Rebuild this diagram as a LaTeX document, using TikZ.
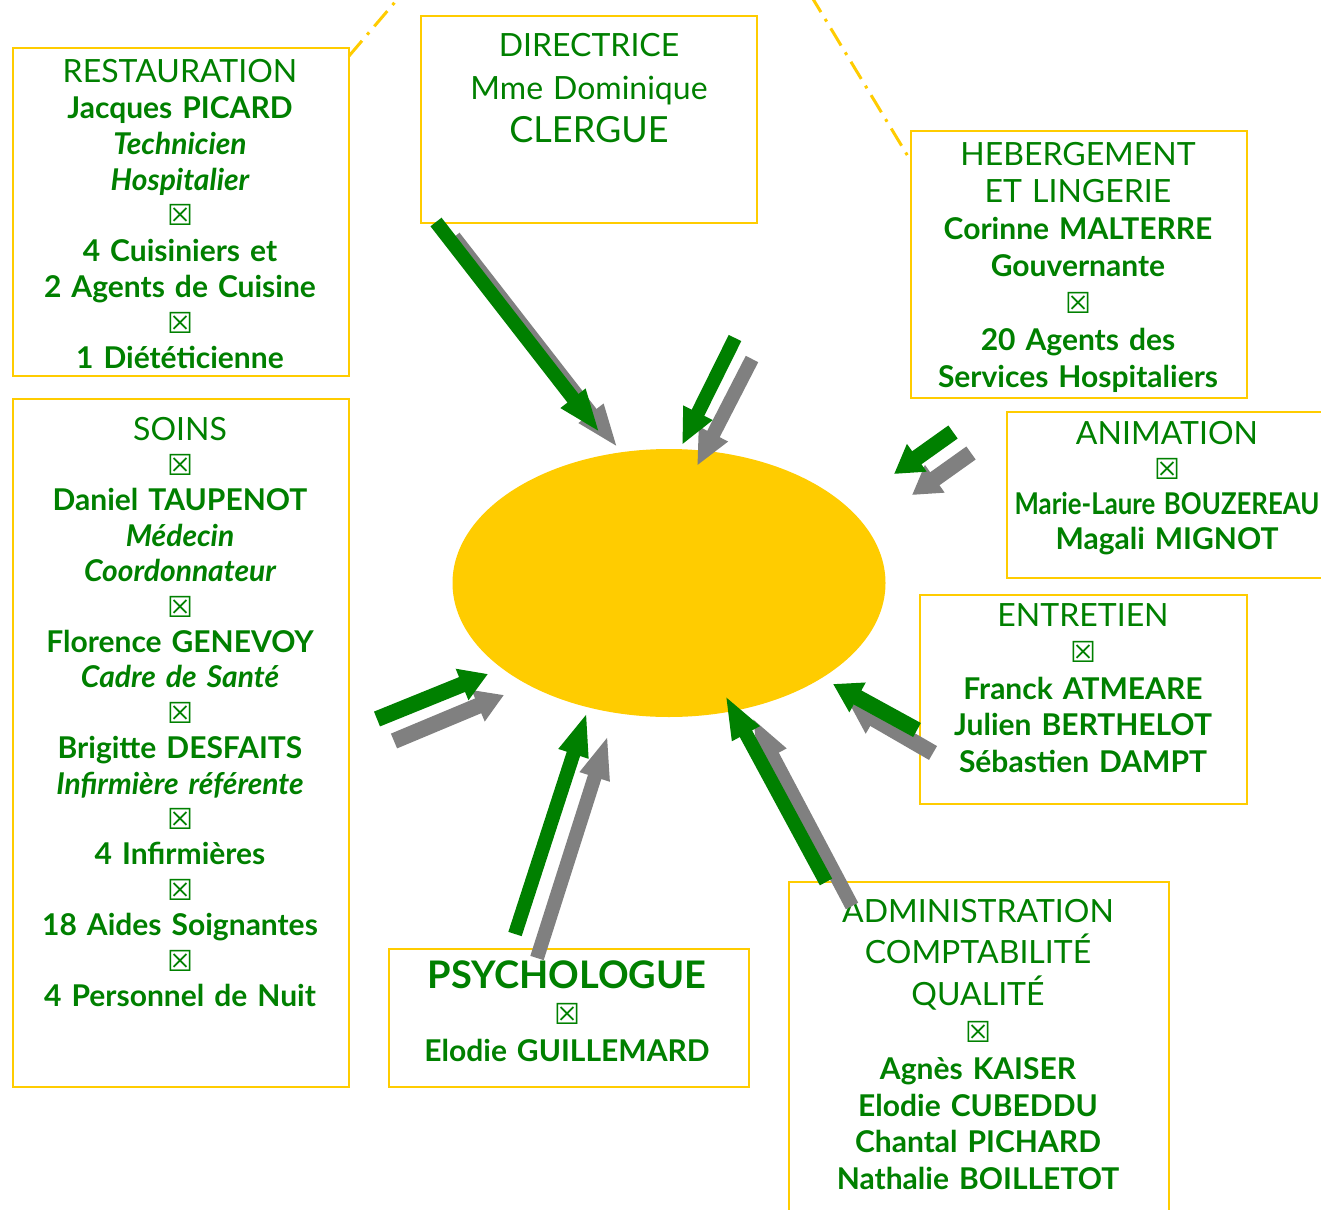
\documentclass[tikz,border=0pt]{standalone}
\usepackage{fontspec}
\setmainfont{Lato}
\newfontfamily\symf{DejaVu Sans}
\usetikzlibrary{arrows.meta,shapes.geometric}
\definecolor{tgreen}{HTML}{008000}
\definecolor{boxy}{HTML}{FFCC00}
\definecolor{agray}{HTML}{808080}
\newcommand\bx{{\symf\fontsize{29}{24}\selectfont ☒}}
\newcommand\nm[1]{{\bfseries #1}}
\newcommand\jb[1]{{\bfseries\itshape #1}}
\newcommand\hd[1]{{\fontsize{32}{30}\selectfont #1}}
\begin{document}
\begin{tikzpicture}[x=1pt,y=-1pt,
  box/.style={draw=boxy,line width=2pt,inner sep=0pt,anchor=north west},
  lbl/.style={text=tgreen,align=center,text width=420pt,anchor=base,inner sep=0pt},
  sk/.style={font=\fontsize{30}{#1}\selectfont},
  longarr/.style={-{Triangle[width=28pt,length=44pt]},line width=14pt},
  shortarr/.style={-{Triangle[width=32pt,length=28pt]},line width=16pt},
  dd/.style={draw=boxy,line width=3pt,dash pattern=on 20pt off 8pt on 3pt off 8pt}]
\clip (0,0) rectangle (1321,1209);
\fill[white] (0,0) rectangle (1321,1209);

% ellipse
\node[ellipse,fill=boxy,minimum width=433pt,minimum height=268pt,inner sep=0pt] (sun) at (669,583) {};

% boxes
\node[box,minimum width=336pt,minimum height=328pt] (rest) at (12,47) {};
\node[box,minimum width=336pt,minimum height=207pt] (dir) at (420,15) {};
\node[box,minimum width=336pt,minimum height=267pt] (heb) at (910,130) {};
\node[box,minimum width=330pt,minimum height=166pt] (anim) at (1006,411) {};
\node[box,minimum width=327pt,minimum height=209pt] (entr) at (919,594) {};
\node[box,minimum width=336pt,minimum height=688pt] (soins) at (12,398) {};
\node[box,minimum width=360pt,minimum height=138pt] (psy) at (388,948) {};
\node[box,minimum width=380pt,minimum height=340pt] (admin) at (788,881) {};

% dash-dot lines
\coordinate (d1a) at (349,56);
\coordinate (d1b) at (401,-5);
\coordinate (d2a) at (810.6,-5);
\coordinate (d2b) at (909,158);
\draw[dd] (d1a) -- (d1b);
\draw[dd] (d2a) -- (d2b);

% texts
\node[lbl,sk=35.75] (rest-t) at (180,83) {\hd{RESTAURATION}\\ \nm{Jacques PICARD}\\ \jb{Technicien}\\ \jb{Hospitalier}\\ \bx\\ \nm{4 Cuisiniers et}\\ \nm{2 Agents de Cuisine}\\ \bx\\ \nm{1 Diététicienne}};
\node[lbl,sk=43] (dir-t) at (589,57) {\hd{DIRECTRICE}\\ \hd{Mme Dominique}\\ {\fontsize{36}{43}\selectfont CLERGUE}};
\node[lbl,sk=37] (heb-t) at (1078,165) {\hd{HEBERGEMENT}\\ \hd{ET LINGERIE}\\ \nm{Corinne MALTERRE}\\ \nm{Gouvernante}\\ \bx\\ \nm{20 Agents des}\\ \nm{Services Hospitaliers}};
\node[lbl,sk=35] (anim-t) at (1167,444) {\hd{ANIMATION}\\ \bx\\ \scalebox{0.86}[1]{\nm{Marie-Laure BOUZEREAU}}\\ \nm{Magali MIGNOT}};
\node[lbl,sk=36.5] (entr-t) at (1083,626) {\hd{ENTRETIEN}\\ \bx\\ \nm{Franck ATMEARE}\\ \nm{Julien BERTHELOT}\\ \nm{Sébastien DAMPT}};
\node[lbl,sk=35.4] (soins-t) at (180,440) {\hd{SOINS}\\ \bx\\ \nm{Daniel TAUPENOT}\\ \jb{Médecin}\\ \jb{Coordonnateur}\\ \bx\\ \nm{Florence GENEVOY}\\ \jb{Cadre de Santé}\\ \bx\\ \nm{Brigitte DESFAITS}\\ \jb{Infirmière référente}\\ \bx\\ \nm{4 Infirmières}\\ \bx\\ \nm{18 Aides Soignantes}\\ \bx\\ \nm{4 Personnel de Nuit}};
\node[lbl,sk=36.5] (psy-t) at (567,988) {{\fontsize{38}{36}\selectfont\bfseries PSYCHOLOGUE}\\ \bx\\ \nm{Elodie GUILLEMARD}};
\node[lbl,sk=36.8] (admin-t) at (978,922) {\hd{ADMINISTRATION}\\[5pt] \hd{COMPTABILITÉ}\\[5pt] \hd{QUALITÉ}\\ \bx\\ \nm{Agnès KAISER}\\ \nm{Elodie CUBEDDU}\\ \nm{Chantal PICHARD}\\ \nm{Nathalie BOILLETOT}};

% arrow coordinates (green tail/tip, gray tail/tip)
\coordinate (a1t) at (436,222);   \coordinate (a1h) at (600,433);
\coordinate (b1t) at (454,237);   \coordinate (b1h) at (618,448);
\coordinate (a2t) at (735,338);   \coordinate (a2h) at (682,445);
\coordinate (b2t) at (752,359);   \coordinate (b2h) at (697,466);
\coordinate (a3t) at (953,432);   \coordinate (a3h) at (894,474);
\coordinate (b3t) at (971,453);   \coordinate (b3h) at (912,495);
\coordinate (a4t) at (377,719);   \coordinate (a4h) at (488,674);
\coordinate (b4t) at (394,741);   \coordinate (b4h) at (504,695);
\coordinate (a5t) at (515,934);   \coordinate (a5h) at (587,712);
\coordinate (b5t) at (537,958);   \coordinate (b5h) at (608,735);
\coordinate (a6t) at (826,882);   \coordinate (a6h) at (725,695);
\coordinate (b6t) at (852,906);   \coordinate (b6h) at (752,717);
\coordinate (a7t) at (917,730);   \coordinate (a7h) at (833,684);
\coordinate (b7t) at (933,753);   \coordinate (b7h) at (850,705);

% gray shadows
\draw[longarr,agray] (b1t) -- (b1h);
\draw[longarr,agray,-{Triangle[width=30pt,length=36pt]}] (b2t) -- (b2h);
\draw[shortarr,agray] (b3t) -- (b3h);
\draw[shortarr,agray] (b4t) -- (b4h);
\draw[longarr,agray] (b5t) -- (b5h);
\draw[longarr,agray] (b6t) -- (b6h);
\draw[shortarr,agray] (b7t) -- (b7h);
% green arrows
\draw[longarr,tgreen] (a1t) -- (a1h);
\draw[longarr,tgreen,-{Triangle[width=30pt,length=36pt]}] (a2t) -- (a2h);
\draw[shortarr,tgreen] (a3t) -- (a3h);
\draw[shortarr,tgreen] (a4t) -- (a4h);
\draw[longarr,tgreen] (a5t) -- (a5h);
\draw[longarr,tgreen] (a6t) -- (a6h);
\draw[shortarr,tgreen] (a7t) -- (a7h);
\end{tikzpicture}
\end{document}
